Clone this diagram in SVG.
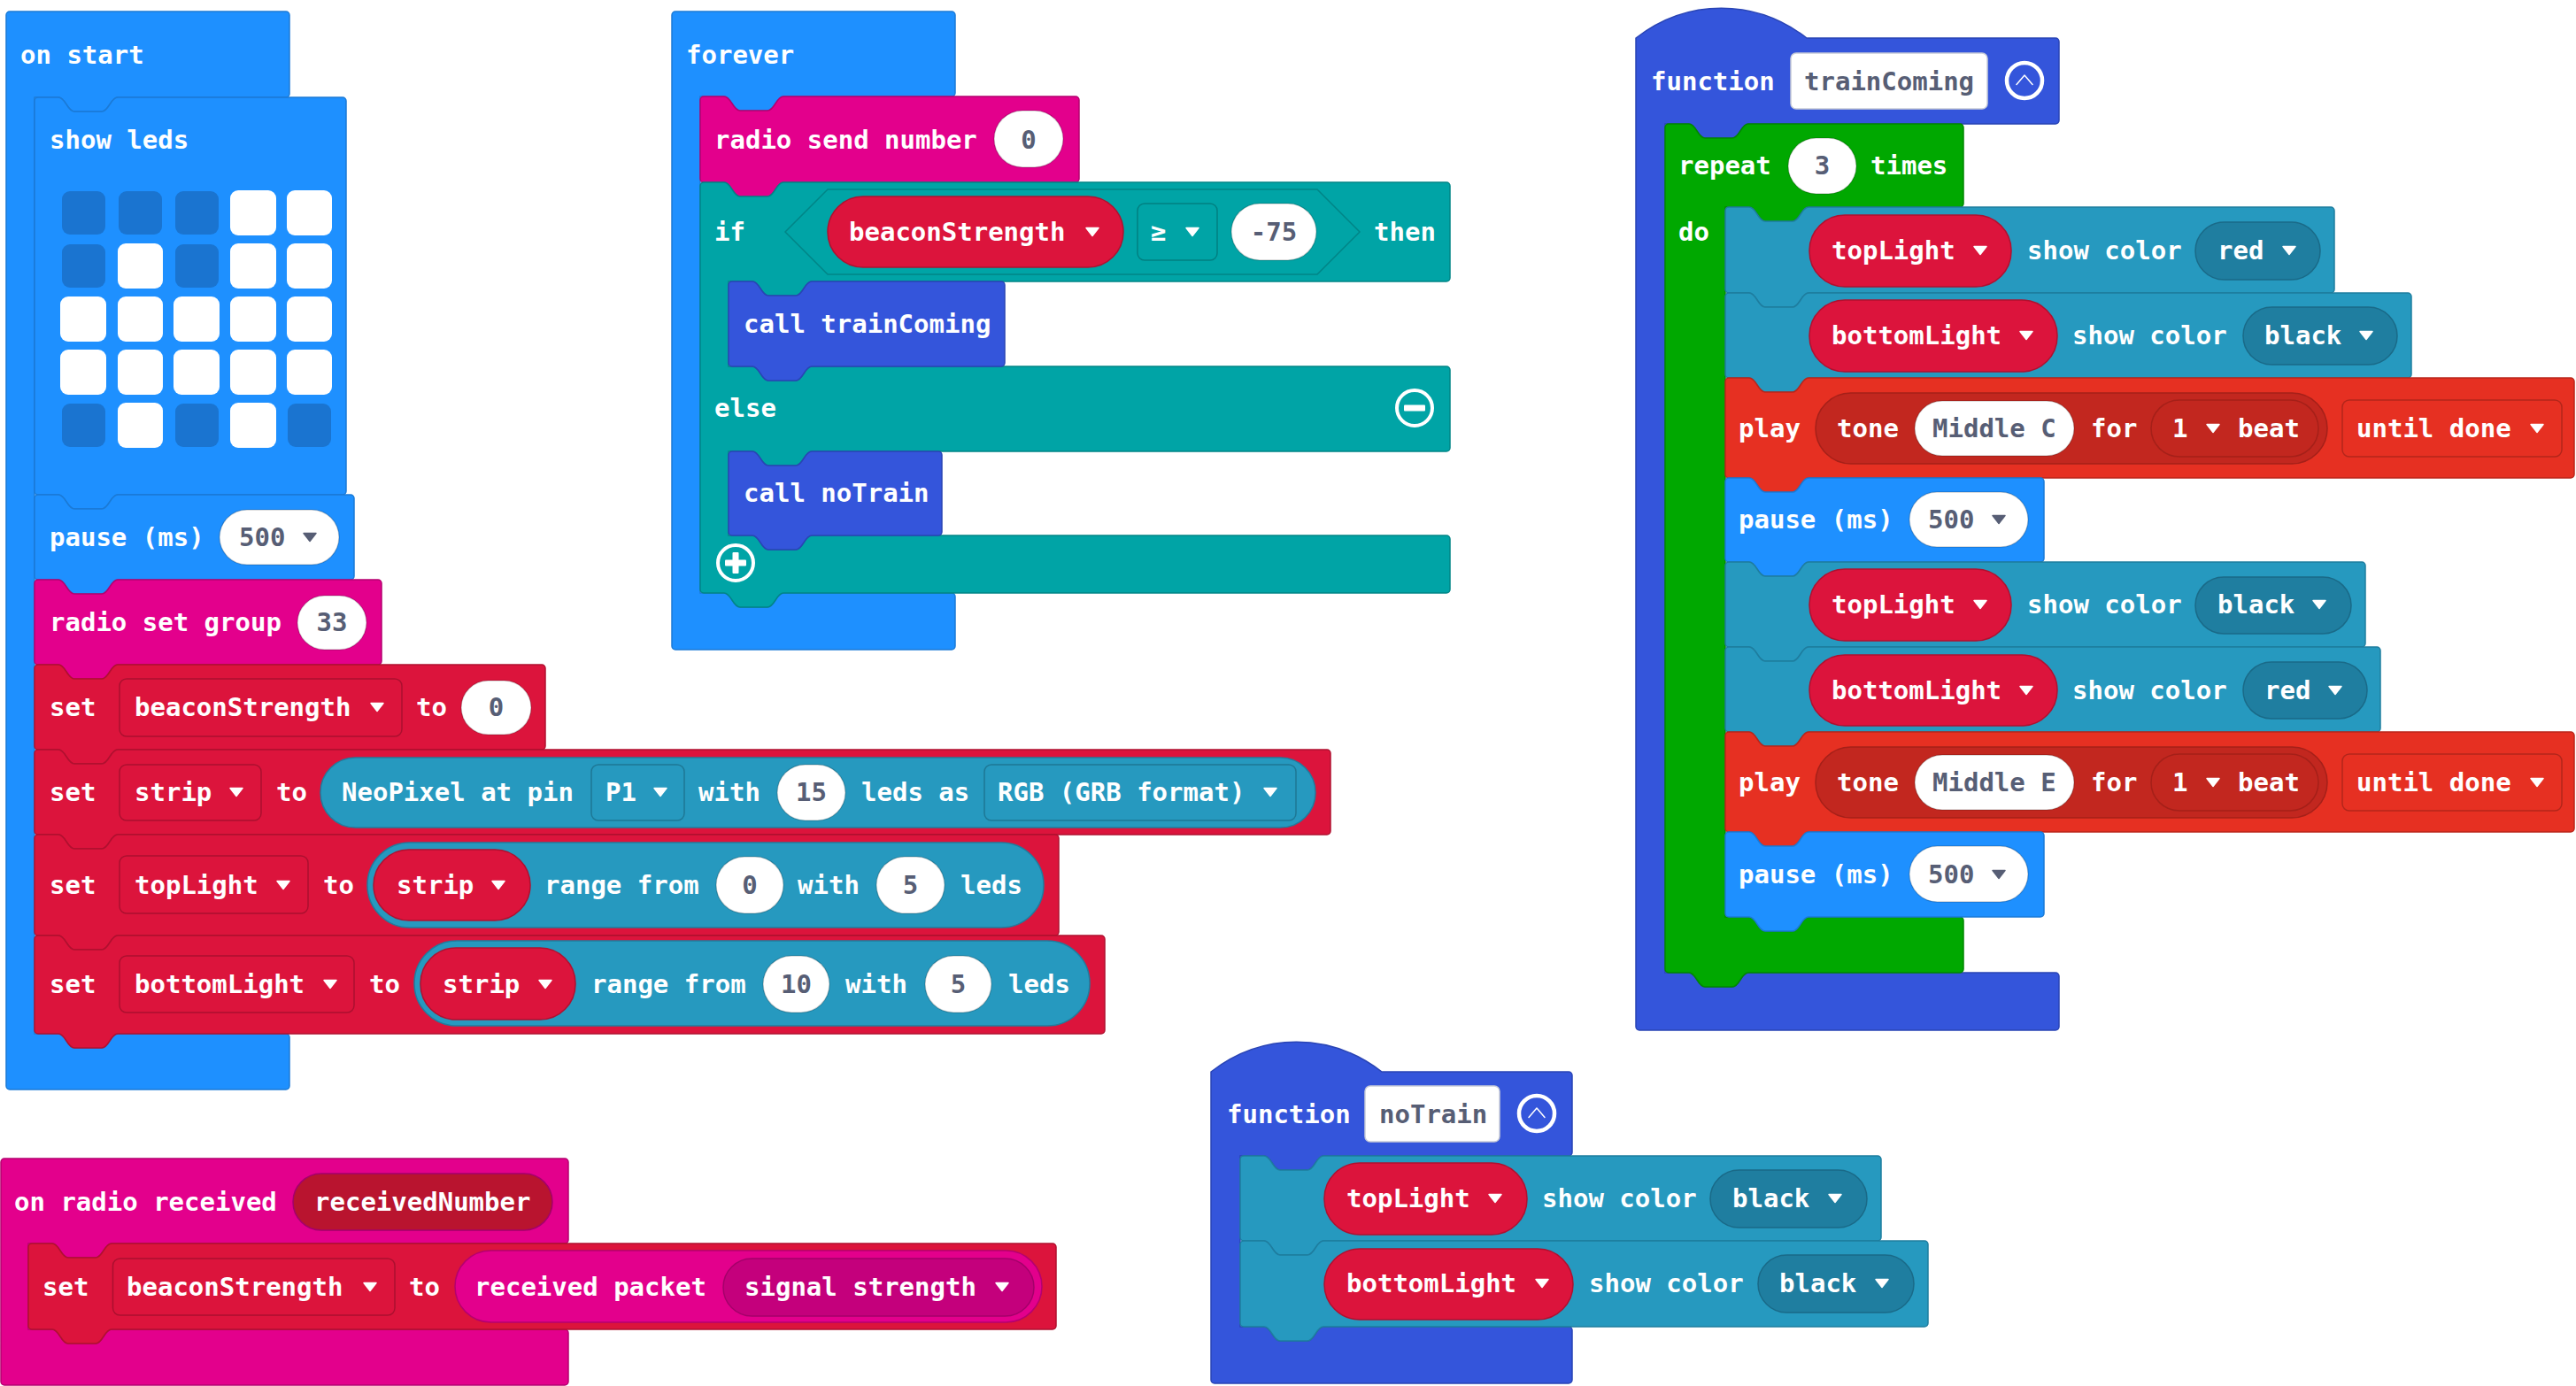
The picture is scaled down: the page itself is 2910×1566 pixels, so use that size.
<svg xmlns="http://www.w3.org/2000/svg" xmlns:xlink="http://www.w3.org/1999/xlink" width="2910" height="1566" viewBox="0 0 2910 1566">
<style>
.t{font-family:"DejaVu Sans Mono","Liberation Mono",monospace;font-size:29px;font-weight:bold;fill:#fff}
.g{fill:#575E75}
.m{text-anchor:middle}
path,rect,polygon{stroke-width:1.5}
.blue{fill:#1E90FF;stroke:#1B7AD6}
.mag{fill:#E3008C;stroke:#B5006F}
.magd{fill:#C4007C;stroke:#A4006A}
.rcv{fill:#B9142F;stroke:#A3006B}
.red{fill:#DC143C;stroke:#B0102F}
.npx{fill:#2699BF;stroke:#1E7D9F}
.npd{fill:#1F7EA0;stroke:#1A6A88}
.logic{fill:#00A4A6;stroke:#008587}
.fn{fill:#3455DB;stroke:#2944B5}
.loop{fill:#00A800;stroke:#008700}
.mus{fill:#E63022;stroke:#BA261B}
.musd{fill:#C2271F;stroke:#A52019}
.oval{fill:#fff;stroke:rgba(0,0,0,0.18)}
.dd{fill:none;stroke:rgba(0,0,0,0.22)}
.fld{fill:#fff;stroke:#C8CCD8}
.ld{fill:#1A74D0}
.lw{fill:#fff}
</style>
<defs>
<path id="tri" d="M-7,-4.5 H7 L0,4.5 Z" stroke-linejoin="round" stroke-width="3"/>
<g id="collapse"><circle r="20" fill="none" stroke="#fff" stroke-width="4.5"/><path d="M-9,4.5 L0,-6 L9,4.5" fill="none" stroke="#fff" stroke-width="6" stroke-linecap="round" stroke-linejoin="round"/></g>
<g id="minus"><circle r="20" fill="none" stroke="#fff" stroke-width="4"/><rect x="-12" y="-3.5" width="24" height="7" rx="1" fill="#fff" stroke="none"/></g>
<g id="plus"><circle r="20" fill="none" stroke="#fff" stroke-width="4"/><rect x="-12" y="-3.5" width="24" height="7" rx="1" fill="#fff" stroke="none"/><rect x="-3.5" y="-12" width="7" height="24" rx="1" fill="#fff" stroke="none"/></g>
</defs>
<rect width="2910" height="1566" fill="#fff"/>
<g id="connectors"/>

<!-- ON START -->
<g id="on-start">
<path class="blue" d="M7,17 a4,4 0 0 1 4,-4 H323 a4,4 0 0 1 4,4 V106 a4,4 0 0 1 -4,4 H133 c-8,0 -10,16 -18,16 h-31 c-8,0 -10,-16 -18,-16 H39 V1168 H66 c8,0 10,16 18,16 h31 c8,0 10,-16 18,-16 H323 a4,4 0 0 1 4,4 V1227 a4,4 0 0 1 -4,4 H11 a4,4 0 0 1 -4,-4 Z"/>
<text class="t" x="23" y="72">on start</text>
</g>
<g id="show-leds">
<path class="blue" d="M39,114 a4,4 0 0 1 4,-4 H66 c8,0 10,16 18,16 h31 c8,0 10,-16 18,-16 H387 a4,4 0 0 1 4,4 V555 a4,4 0 0 1 -4,4 H133 c-8,0 -10,16 -18,16 h-31 c-8,0 -10,-16 -18,-16 H43 a4,4 0 0 1 -4,-4 Z"/>
<text class="t" x="56" y="168">show leds</text>
<rect class="ld" x="70" y="216" width="49" height="49" rx="9"/><rect class="ld" x="134" y="216" width="49" height="49" rx="9"/><rect class="ld" x="198" y="216" width="49" height="49" rx="9"/><rect class="lw" x="260" y="215" width="52" height="51" rx="9"/><rect class="lw" x="324" y="215" width="51" height="51" rx="9"/>
<rect class="ld" x="70" y="276" width="49" height="49" rx="9"/><rect class="lw" x="133" y="275" width="51" height="51" rx="9"/><rect class="ld" x="198" y="276" width="49" height="49" rx="9"/><rect class="lw" x="260" y="275" width="52" height="51" rx="9"/><rect class="lw" x="324" y="275" width="51" height="51" rx="9"/>
<rect class="lw" x="68" y="335" width="52" height="51" rx="9"/><rect class="lw" x="133" y="335" width="51" height="51" rx="9"/><rect class="lw" x="196" y="335" width="52" height="51" rx="9"/><rect class="lw" x="260" y="335" width="52" height="51" rx="9"/><rect class="lw" x="324" y="335" width="51" height="51" rx="9"/>
<rect class="lw" x="68" y="395" width="52" height="51" rx="9"/><rect class="lw" x="133" y="395" width="51" height="51" rx="9"/><rect class="lw" x="196" y="395" width="52" height="51" rx="9"/><rect class="lw" x="260" y="395" width="52" height="51" rx="9"/><rect class="lw" x="324" y="395" width="51" height="51" rx="9"/>
<rect class="ld" x="70" y="456" width="49" height="49" rx="9"/><rect class="lw" x="133" y="455" width="51" height="51" rx="9"/><rect class="ld" x="198" y="456" width="49" height="49" rx="9"/><rect class="lw" x="260" y="455" width="52" height="51" rx="9"/><rect class="ld" x="325" y="456" width="49" height="49" rx="9"/>
</g>
<g id="pause-1">
<path class="blue" d="M39,563 a4,4 0 0 1 4,-4 H66 c8,0 10,16 18,16 h31 c8,0 10,-16 18,-16 H396 a4,4 0 0 1 4,4 V651 a4,4 0 0 1 -4,4 H133 c-8,0 -10,16 -18,16 h-31 c-8,0 -10,-16 -18,-16 H43 a4,4 0 0 1 -4,-4 Z"/>
<text class="t" x="56" y="617">pause (ms)</text>
<rect class="oval" x="248" y="576" width="135" height="62" rx="31"/>
<text class="t g" x="270" y="617">500</text>
<use xlink:href="#tri" x="350" y="607" fill="#575E75" stroke="#575E75"/>
</g>
<g id="radio-set-group">
<path class="mag" d="M39,659 a4,4 0 0 1 4,-4 H66 c8,0 10,16 18,16 h31 c8,0 10,-16 18,-16 H427 a4,4 0 0 1 4,4 V747 a4,4 0 0 1 -4,4 H133 c-8,0 -10,16 -18,16 h-31 c-8,0 -10,-16 -18,-16 H43 a4,4 0 0 1 -4,-4 Z"/>
<text class="t" x="56" y="713">radio set group</text>
<rect class="oval" x="336" y="673" width="78" height="61" rx="30.5"/>
<text class="t g m" x="375" y="713">33</text>
</g>
<g id="set-beacon-1">
<path class="red" d="M39,755 a4,4 0 0 1 4,-4 H66 c8,0 10,16 18,16 h31 c8,0 10,-16 18,-16 H612 a4,4 0 0 1 4,4 V843 a4,4 0 0 1 -4,4 H133 c-8,0 -10,16 -18,16 h-31 c-8,0 -10,-16 -18,-16 H43 a4,4 0 0 1 -4,-4 Z"/>
<text class="t" x="56" y="809">set</text>
<rect class="dd" x="135" y="767" width="319" height="65" rx="8"/>
<text class="t" x="152" y="809">beaconStrength</text>
<use xlink:href="#tri" x="426" y="799" fill="#fff" stroke="#fff"/>
<text class="t" x="470" y="809">to</text>
<rect class="oval" x="521" y="769" width="79" height="61" rx="30.5"/>
<text class="t g m" x="560.5" y="809">0</text>
</g>
<g id="set-strip">
<path class="red" d="M39,851 a4,4 0 0 1 4,-4 H66 c8,0 10,16 18,16 h31 c8,0 10,-16 18,-16 H1499 a4,4 0 0 1 4,4 V939 a4,4 0 0 1 -4,4 H133 c-8,0 -10,16 -18,16 h-31 c-8,0 -10,-16 -18,-16 H43 a4,4 0 0 1 -4,-4 Z"/>
<text class="t" x="56" y="905">set</text>
<rect class="dd" x="135" y="864" width="160" height="63" rx="8"/>
<text class="t" x="152" y="905">strip</text>
<use xlink:href="#tri" x="267" y="895" fill="#fff" stroke="#fff"/>
<text class="t" x="312" y="905">to</text>
<rect class="npx" x="362" y="856" width="1124" height="79" rx="39.5"/>
<text class="t" x="386" y="905">NeoPixel at pin</text>
<rect class="dd" x="668" y="864" width="105" height="63" rx="8"/>
<text class="t" x="684" y="905">P1</text>
<use xlink:href="#tri" x="746" y="895" fill="#fff" stroke="#fff"/>
<text class="t" x="789" y="905">with</text>
<rect class="oval" x="878" y="864" width="77" height="63" rx="31.5"/>
<text class="t g m" x="916.5" y="905">15</text>
<text class="t" x="973" y="905">leds as</text>
<rect class="dd" x="1112" y="864" width="352" height="63" rx="8"/>
<text class="t" x="1127" y="905">RGB (GRB format)</text>
<use xlink:href="#tri" x="1435" y="895" fill="#fff" stroke="#fff"/>
</g>
<g id="set-toplight">
<path class="red" d="M39,947 a4,4 0 0 1 4,-4 H66 c8,0 10,16 18,16 h31 c8,0 10,-16 18,-16 H1192 a4,4 0 0 1 4,4 V1053 a4,4 0 0 1 -4,4 H133 c-8,0 -10,16 -18,16 h-31 c-8,0 -10,-16 -18,-16 H43 a4,4 0 0 1 -4,-4 Z"/>
<text class="t" x="56" y="1010">set</text>
<rect class="dd" x="135" y="967" width="213" height="65" rx="8"/>
<text class="t" x="152" y="1010">topLight</text>
<use xlink:href="#tri" x="320" y="1000" fill="#fff" stroke="#fff"/>
<text class="t" x="365" y="1010">to</text>
<rect class="npx" x="415" y="952" width="764" height="96" rx="48"/>
<rect class="red" x="422" y="960" width="177" height="80" rx="40"/>
<text class="t" x="448" y="1010">strip</text>
<use xlink:href="#tri" x="563" y="1000" fill="#fff" stroke="#fff"/>
<text class="t" x="615" y="1010">range from</text>
<rect class="oval" x="809" y="968" width="76" height="64" rx="32"/>
<text class="t g m" x="847" y="1010">0</text>
<text class="t" x="901" y="1010">with</text>
<rect class="oval" x="990" y="968" width="77" height="64" rx="32"/>
<text class="t g m" x="1028.5" y="1010">5</text>
<text class="t" x="1085" y="1010">leds</text>
</g>
<g id="set-bottomlight">
<path class="red" d="M39,1061 a4,4 0 0 1 4,-4 H66 c8,0 10,16 18,16 h31 c8,0 10,-16 18,-16 H1244 a4,4 0 0 1 4,4 V1164 a4,4 0 0 1 -4,4 H133 c-8,0 -10,16 -18,16 h-31 c-8,0 -10,-16 -18,-16 H43 a4,4 0 0 1 -4,-4 Z"/>
<text class="t" x="56" y="1122">set</text>
<rect class="dd" x="135" y="1080" width="265" height="64" rx="8"/>
<text class="t" x="152" y="1122">bottomLight</text>
<use xlink:href="#tri" x="373" y="1112" fill="#fff" stroke="#fff"/>
<text class="t" x="417" y="1122">to</text>
<rect class="npx" x="468" y="1063" width="763" height="96" rx="48"/>
<rect class="red" x="475" y="1071" width="175" height="81" rx="40"/>
<text class="t" x="500" y="1122">strip</text>
<use xlink:href="#tri" x="616" y="1112" fill="#fff" stroke="#fff"/>
<text class="t" x="668" y="1122">range from</text>
<rect class="oval" x="862" y="1080" width="75" height="64" rx="32"/>
<text class="t g m" x="899.5" y="1122">10</text>
<text class="t" x="955" y="1122">with</text>
<rect class="oval" x="1045" y="1080" width="75" height="64" rx="32"/>
<text class="t g m" x="1082.5" y="1122">5</text>
<text class="t" x="1139" y="1122">leds</text>
</g>

<!-- FOREVER -->
<g id="forever">
<path class="blue" d="M759,17 a4,4 0 0 1 4,-4 H1075 a4,4 0 0 1 4,4 V105 a4,4 0 0 1 -4,4 H885 c-8,0 -10,16 -18,16 h-31 c-8,0 -10,-16 -18,-16 H791 V670 H818 c8,0 10,16 18,16 h31 c8,0 10,-16 18,-16 H1075 a4,4 0 0 1 4,4 V730 a4,4 0 0 1 -4,4 H763 a4,4 0 0 1 -4,-4 Z"/>
<text class="t" x="775" y="72">forever</text>
</g>
<g id="radio-send-number">
<path class="mag" d="M791,113 a4,4 0 0 1 4,-4 H818 c8,0 10,16 18,16 h31 c8,0 10,-16 18,-16 H1215 a4,4 0 0 1 4,4 V202 a4,4 0 0 1 -4,4 H885 c-8,0 -10,16 -18,16 h-31 c-8,0 -10,-16 -18,-16 H795 a4,4 0 0 1 -4,-4 Z"/>
<text class="t" x="807" y="168">radio send number</text>
<rect class="oval" x="1123" y="125" width="78" height="64" rx="32"/>
<text class="t g m" x="1162" y="168">0</text>
</g>
<g id="if-else">
<path class="logic" d="M791,210 a4,4 0 0 1 4,-4 H818 c8,0 10,16 18,16 h31 c8,0 10,-16 18,-16 H1634 a4,4 0 0 1 4,4 V314 a4,4 0 0 1 -4,4 H917 c-8,0 -10,16 -18,16 h-31 c-8,0 -10,-16 -18,-16 H823 V414 H850 c8,0 10,16 18,16 h31 c8,0 10,-16 18,-16 H1634 a4,4 0 0 1 4,4 V506 a4,4 0 0 1 -4,4 H917 c-8,0 -10,16 -18,16 h-31 c-8,0 -10,-16 -18,-16 H823 V605 H850 c8,0 10,16 18,16 h31 c8,0 10,-16 18,-16 H1634 a4,4 0 0 1 4,4 V666 a4,4 0 0 1 -4,4 H885 c-8,0 -10,16 -18,16 h-31 c-8,0 -10,-16 -18,-16 H795 a4,4 0 0 1 -4,-4 Z"/>
<text class="t" x="807" y="272">if</text>
<polygon class="logic" points="887,262 935,214 1488,214 1536,262 1488,310 935,310"/>
<rect class="red" x="935" y="222" width="334" height="80" rx="40"/>
<text class="t" x="959" y="272">beaconStrength</text>
<use xlink:href="#tri" x="1234" y="262" fill="#fff" stroke="#fff"/>
<rect class="dd" x="1285" y="230" width="90" height="64" rx="8"/>
<text class="t" x="1300" y="272">≥</text>
<use xlink:href="#tri" x="1347" y="262" fill="#fff" stroke="#fff"/>
<rect class="oval" x="1391" y="230" width="96" height="64" rx="32"/>
<text class="t g m" x="1439" y="272">-75</text>
<text class="t" x="1552" y="272">then</text>
<text class="t" x="807" y="471">else</text>
<use xlink:href="#minus" x="1598" y="461"/>
<use xlink:href="#plus" x="831" y="636"/>
</g>
<g id="call-traincoming">
<path class="fn" d="M823,322 a4,4 0 0 1 4,-4 H850 c8,0 10,16 18,16 h31 c8,0 10,-16 18,-16 H1131 a4,4 0 0 1 4,4 V410 a4,4 0 0 1 -4,4 H917 c-8,0 -10,16 -18,16 h-31 c-8,0 -10,-16 -18,-16 H827 a4,4 0 0 1 -4,-4 Z"/>
<text class="t" x="840" y="376">call trainComing</text>
</g>
<g id="call-notrain">
<path class="fn" d="M823,514 a4,4 0 0 1 4,-4 H850 c8,0 10,16 18,16 h31 c8,0 10,-16 18,-16 H1060 a4,4 0 0 1 4,4 V601 a4,4 0 0 1 -4,4 H917 c-8,0 -10,16 -18,16 h-31 c-8,0 -10,-16 -18,-16 H827 a4,4 0 0 1 -4,-4 Z"/>
<text class="t" x="840" y="567">call noTrain</text>
</g>

<!-- FUNCTION trainComing -->
<g id="function-traincoming">
<path class="fn" d="M1848,43 c58,-45 135,-45 193,0 H2322 a4,4 0 0 1 4,4 V136 a4,4 0 0 1 -4,4 H1975 c-8,0 -10,16 -18,16 h-31 c-8,0 -10,-16 -18,-16 H1881 V1099 H1908 c8,0 10,16 18,16 h31 c8,0 10,-16 18,-16 H2322 a4,4 0 0 1 4,4 V1160 a4,4 0 0 1 -4,4 H1852 a4,4 0 0 1 -4,-4 Z"/>
<text class="t" x="1865" y="102">function</text>
<rect class="fld" x="2023" y="60" width="222" height="63" rx="6"/>
<text class="t g" x="2038" y="102">trainComing</text>
<use xlink:href="#collapse" x="2287" y="91"/>
</g>
<g id="repeat">
<path class="loop" d="M1881,144 a4,4 0 0 1 4,-4 H1908 c8,0 10,16 18,16 h31 c8,0 10,-16 18,-16 H2214 a4,4 0 0 1 4,4 V230 a4,4 0 0 1 -4,4 H2043 c-8,0 -10,16 -18,16 h-31 c-8,0 -10,-16 -18,-16 H1949 V1036 H1976 c8,0 10,16 18,16 h31 c8,0 10,-16 18,-16 H2214 a4,4 0 0 1 4,4 V1095 a4,4 0 0 1 -4,4 H1975 c-8,0 -10,16 -18,16 h-31 c-8,0 -10,-16 -18,-16 H1885 a4,4 0 0 1 -4,-4 Z"/>
<text class="t" x="1896" y="197">repeat</text>
<rect class="oval" x="2020" y="156" width="77" height="63" rx="31.5"/>
<text class="t g m" x="2058.5" y="197">3</text>
<text class="t" x="2113" y="197">times</text>
<text class="t" x="1896" y="272">do</text>
</g>
<g id="tc-toplight-red">
<path class="npx" d="M1949,238 a4,4 0 0 1 4,-4 H1976 c8,0 10,16 18,16 h31 c8,0 10,-16 18,-16 H2633 a4,4 0 0 1 4,4 V327 a4,4 0 0 1 -4,4 H2043 c-8,0 -10,16 -18,16 h-31 c-8,0 -10,-16 -18,-16 H1953 a4,4 0 0 1 -4,-4 Z"/>
<rect class="red" x="2044" y="243" width="228" height="81" rx="40"/>
<text class="t" x="2069" y="293">topLight</text>
<use xlink:href="#tri" x="2237" y="283" fill="#fff" stroke="#fff"/>
<text class="t" x="2290" y="293">show color</text>
<rect class="npd" x="2480" y="251" width="141" height="65" rx="32.5"/>
<text class="t" x="2505" y="293">red</text>
<use xlink:href="#tri" x="2586" y="283" fill="#fff" stroke="#fff"/>
</g>
<g id="tc-bottomlight-black">
<path class="npx" d="M1949,335 a4,4 0 0 1 4,-4 H1976 c8,0 10,16 18,16 h31 c8,0 10,-16 18,-16 H2720 a4,4 0 0 1 4,4 V423 a4,4 0 0 1 -4,4 H2043 c-8,0 -10,16 -18,16 h-31 c-8,0 -10,-16 -18,-16 H1953 a4,4 0 0 1 -4,-4 Z"/>
<rect class="red" x="2044" y="339" width="280" height="81" rx="40"/>
<text class="t" x="2069" y="389">bottomLight</text>
<use xlink:href="#tri" x="2289" y="379" fill="#fff" stroke="#fff"/>
<text class="t" x="2341" y="389">show color</text>
<rect class="npd" x="2534" y="347" width="174" height="65" rx="32.5"/>
<text class="t" x="2558" y="389">black</text>
<use xlink:href="#tri" x="2673" y="379" fill="#fff" stroke="#fff"/>
</g>
<g id="tc-play-c">
<path class="mus" d="M1949,431 a4,4 0 0 1 4,-4 H1976 c8,0 10,16 18,16 h31 c8,0 10,-16 18,-16 H2904 a4,4 0 0 1 4,4 V536 a4,4 0 0 1 -4,4 H2043 c-8,0 -10,16 -18,16 h-31 c-8,0 -10,-16 -18,-16 H1953 a4,4 0 0 1 -4,-4 Z"/>
<text class="t" x="1964" y="494">play</text>
<rect class="musd" x="2051" y="444" width="578" height="80" rx="40"/>
<text class="t" x="2075" y="494">tone</text>
<rect class="oval" x="2163" y="453" width="180" height="62" rx="31"/>
<text class="t g" x="2183" y="494">Middle C</text>
<text class="t" x="2362" y="494">for</text>
<rect class="musd" x="2430" y="452" width="189" height="64" rx="32"/>
<text class="t" x="2454" y="494">1</text>
<use xlink:href="#tri" x="2500" y="484" fill="#fff" stroke="#fff"/>
<text class="t" x="2528" y="494">beat</text>
<rect class="dd" x="2646" y="452" width="248" height="64" rx="8"/>
<text class="t" x="2662" y="494">until done</text>
<use xlink:href="#tri" x="2866" y="484" fill="#fff" stroke="#fff"/>
</g>
<g id="tc-pause-1">
<path class="blue" d="M1949,544 a4,4 0 0 1 4,-4 H1976 c8,0 10,16 18,16 h31 c8,0 10,-16 18,-16 H2305 a4,4 0 0 1 4,4 V631 a4,4 0 0 1 -4,4 H2043 c-8,0 -10,16 -18,16 h-31 c-8,0 -10,-16 -18,-16 H1953 a4,4 0 0 1 -4,-4 Z"/>
<text class="t" x="1964" y="597">pause (ms)</text>
<rect class="oval" x="2157" y="556" width="134" height="62" rx="31"/>
<text class="t g" x="2178" y="597">500</text>
<use xlink:href="#tri" x="2258" y="587" fill="#575E75" stroke="#575E75"/>
</g>
<g id="tc-toplight-black">
<path class="npx" d="M1949,639 a4,4 0 0 1 4,-4 H1976 c8,0 10,16 18,16 h31 c8,0 10,-16 18,-16 H2668 a4,4 0 0 1 4,4 V727 a4,4 0 0 1 -4,4 H2043 c-8,0 -10,16 -18,16 h-31 c-8,0 -10,-16 -18,-16 H1953 a4,4 0 0 1 -4,-4 Z"/>
<rect class="red" x="2044" y="643" width="228" height="81" rx="40"/>
<text class="t" x="2069" y="693">topLight</text>
<use xlink:href="#tri" x="2237" y="683" fill="#fff" stroke="#fff"/>
<text class="t" x="2290" y="693">show color</text>
<rect class="npd" x="2480" y="652" width="176" height="64" rx="32"/>
<text class="t" x="2505" y="693">black</text>
<use xlink:href="#tri" x="2620" y="683" fill="#fff" stroke="#fff"/>
</g>
<g id="tc-bottomlight-red">
<path class="npx" d="M1949,735 a4,4 0 0 1 4,-4 H1976 c8,0 10,16 18,16 h31 c8,0 10,-16 18,-16 H2685 a4,4 0 0 1 4,4 V823 a4,4 0 0 1 -4,4 H2043 c-8,0 -10,16 -18,16 h-31 c-8,0 -10,-16 -18,-16 H1953 a4,4 0 0 1 -4,-4 Z"/>
<rect class="red" x="2044" y="740" width="280" height="80" rx="40"/>
<text class="t" x="2069" y="790">bottomLight</text>
<use xlink:href="#tri" x="2289" y="780" fill="#fff" stroke="#fff"/>
<text class="t" x="2341" y="790">show color</text>
<rect class="npd" x="2534" y="748" width="140" height="64" rx="32"/>
<text class="t" x="2558" y="790">red</text>
<use xlink:href="#tri" x="2638" y="780" fill="#fff" stroke="#fff"/>
</g>
<g id="tc-play-e">
<path class="mus" d="M1949,831 a4,4 0 0 1 4,-4 H1976 c8,0 10,16 18,16 h31 c8,0 10,-16 18,-16 H2904 a4,4 0 0 1 4,4 V936 a4,4 0 0 1 -4,4 H2043 c-8,0 -10,16 -18,16 h-31 c-8,0 -10,-16 -18,-16 H1953 a4,4 0 0 1 -4,-4 Z"/>
<text class="t" x="1964" y="894">play</text>
<rect class="musd" x="2051" y="844" width="578" height="80" rx="40"/>
<text class="t" x="2075" y="894">tone</text>
<rect class="oval" x="2163" y="853" width="180" height="62" rx="31"/>
<text class="t g" x="2183" y="894">Middle E</text>
<text class="t" x="2362" y="894">for</text>
<rect class="musd" x="2430" y="852" width="189" height="64" rx="32"/>
<text class="t" x="2454" y="894">1</text>
<use xlink:href="#tri" x="2500" y="884" fill="#fff" stroke="#fff"/>
<text class="t" x="2528" y="894">beat</text>
<rect class="dd" x="2646" y="852" width="248" height="64" rx="8"/>
<text class="t" x="2662" y="894">until done</text>
<use xlink:href="#tri" x="2866" y="884" fill="#fff" stroke="#fff"/>
</g>
<g id="tc-pause-2">
<path class="blue" d="M1949,944 a4,4 0 0 1 4,-4 H1976 c8,0 10,16 18,16 h31 c8,0 10,-16 18,-16 H2305 a4,4 0 0 1 4,4 V1032 a4,4 0 0 1 -4,4 H2043 c-8,0 -10,16 -18,16 h-31 c-8,0 -10,-16 -18,-16 H1953 a4,4 0 0 1 -4,-4 Z"/>
<text class="t" x="1964" y="998">pause (ms)</text>
<rect class="oval" x="2157" y="956" width="134" height="63" rx="31.5"/>
<text class="t g" x="2178" y="998">500</text>
<use xlink:href="#tri" x="2258" y="988" fill="#575E75" stroke="#575E75"/>
</g>

<!-- FUNCTION noTrain -->
<g id="function-notrain">
<path class="fn" d="M1368,1211 c58,-45 135,-45 193,0 H1772 a4,4 0 0 1 4,4 V1302 a4,4 0 0 1 -4,4 H1495 c-8,0 -10,16 -18,16 h-31 c-8,0 -10,-16 -18,-16 H1401 V1499 H1428 c8,0 10,16 18,16 h31 c8,0 10,-16 18,-16 H1772 a4,4 0 0 1 4,4 V1559 a4,4 0 0 1 -4,4 H1372 a4,4 0 0 1 -4,-4 Z"/>
<text class="t" x="1386" y="1269">function</text>
<rect class="fld" x="1542" y="1227" width="152" height="63" rx="6"/>
<text class="t g" x="1558" y="1269">noTrain</text>
<use xlink:href="#collapse" x="1736" y="1258"/>
</g>
<g id="nt-toplight-black">
<path class="npx" d="M1401,1310 a4,4 0 0 1 4,-4 H1428 c8,0 10,16 18,16 h31 c8,0 10,-16 18,-16 H2121 a4,4 0 0 1 4,4 V1398 a4,4 0 0 1 -4,4 H1495 c-8,0 -10,16 -18,16 h-31 c-8,0 -10,-16 -18,-16 H1405 a4,4 0 0 1 -4,-4 Z"/>
<rect class="red" x="1496" y="1314" width="229" height="81" rx="40"/>
<text class="t" x="1521" y="1364">topLight</text>
<use xlink:href="#tri" x="1689" y="1354" fill="#fff" stroke="#fff"/>
<text class="t" x="1742" y="1364">show color</text>
<rect class="npd" x="1932" y="1322" width="177" height="65" rx="32.5"/>
<text class="t" x="1957" y="1364">black</text>
<use xlink:href="#tri" x="2073" y="1354" fill="#fff" stroke="#fff"/>
</g>
<g id="nt-bottomlight-black">
<path class="npx" d="M1401,1406 a4,4 0 0 1 4,-4 H1428 c8,0 10,16 18,16 h31 c8,0 10,-16 18,-16 H2174 a4,4 0 0 1 4,4 V1495 a4,4 0 0 1 -4,4 H1495 c-8,0 -10,16 -18,16 h-31 c-8,0 -10,-16 -18,-16 H1405 a4,4 0 0 1 -4,-4 Z"/>
<rect class="red" x="1496" y="1411" width="281" height="80" rx="40"/>
<text class="t" x="1521" y="1460">bottomLight</text>
<use xlink:href="#tri" x="1742" y="1450" fill="#fff" stroke="#fff"/>
<text class="t" x="1795" y="1460">show color</text>
<rect class="npd" x="1986" y="1418" width="176" height="65" rx="32.5"/>
<text class="t" x="2010" y="1460">black</text>
<use xlink:href="#tri" x="2126" y="1450" fill="#fff" stroke="#fff"/>
</g>

<!-- ON RADIO RECEIVED -->
<g id="on-radio-received">
<path class="mag" d="M1,1313 a4,4 0 0 1 4,-4 H638 a4,4 0 0 1 4,4 V1401 a4,4 0 0 1 -4,4 H126 c-8,0 -10,16 -18,16 h-31 c-8,0 -10,-16 -18,-16 H32 V1502 H59 c8,0 10,16 18,16 h31 c8,0 10,-16 18,-16 H638 a4,4 0 0 1 4,4 V1561 a4,4 0 0 1 -4,4 H5 a4,4 0 0 1 -4,-4 Z"/>
<text class="t" x="16" y="1368">on radio received</text>
<rect class="rcv" x="331" y="1326" width="293" height="64" rx="32"/>
<text class="t" x="355" y="1368">receivedNumber</text>
</g>
<g id="set-beacon-2">
<path class="red" d="M32,1409 a4,4 0 0 1 4,-4 H59 c8,0 10,16 18,16 h31 c8,0 10,-16 18,-16 H1189 a4,4 0 0 1 4,4 V1498 a4,4 0 0 1 -4,4 H126 c-8,0 -10,16 -18,16 h-31 c-8,0 -10,-16 -18,-16 H36 a4,4 0 0 1 -4,-4 Z"/>
<text class="t" x="48" y="1464">set</text>
<rect class="dd" x="127.5" y="1422" width="318.5" height="64" rx="8"/>
<text class="t" x="143" y="1464">beaconStrength</text>
<use xlink:href="#tri" x="418" y="1454" fill="#fff" stroke="#fff"/>
<text class="t" x="462" y="1464">to</text>
<rect class="mag" x="514" y="1413" width="663" height="81" rx="40.5"/>
<text class="t" x="536" y="1464">received packet</text>
<rect class="magd" x="817" y="1422" width="351" height="65" rx="32.5"/>
<text class="t" x="841" y="1464">signal strength</text>
<use xlink:href="#tri" x="1132" y="1454" fill="#fff" stroke="#fff"/>
</g>
</svg>
